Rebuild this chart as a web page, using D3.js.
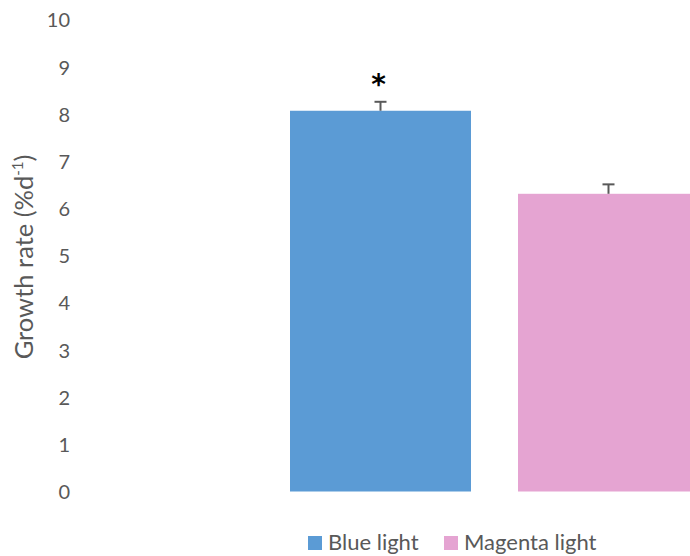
<!DOCTYPE html>
<html>
<head>
<meta charset="utf-8">
<script src="https://cdn.jsdelivr.net/npm/d3@7"></script>
<style>
html,body{margin:0;padding:0;background:#fff;}
svg{display:block;font-family:Lato,"Open Sans",sans-serif;}
</style>
</head>
<body>
<svg id="chart" width="690" height="556"></svg>
<script>
const series = ["Blue light", "Magenta light"];
const values = [8.07, 6.31];
const errors = [0.19, 0.20];
const significance = ["*", ""];
const colors = ["#5B9BD5", "#E5A4D2"];
const yTicks = [0,1,2,3,4,5,6,7,8,9,10];

const svg = d3.select("#chart");
const y = d3.scaleLinear().domain([0, 10]).range([491.5, 19.7]);
const x = d3.scaleBand().domain(series).range([290, 699]).paddingInner(47/228).paddingOuter(0);
const color = d3.scaleOrdinal().domain(series).range(colors);

// y axis (labels only)
const yAxis = d3.axisLeft(y).tickValues(yTicks).tickSize(0).tickPadding(0).tickFormat(d3.format("d"));
const ga = svg.append("g").attr("transform", "translate(70,0)").call(yAxis);
ga.select(".domain").remove();
ga.selectAll("text").attr("font-family", "Lato, sans-serif").attr("font-size", 20).attr("fill", "#595959").attr("dy", "0.36em");

// y title
const yt = svg.append("text")
  .attr("transform", "translate(33," + ((152+362)/2) + ") rotate(-90)")
  .attr("text-anchor", "middle")
  .attr("font-size", 25.5)
  .attr("fill", "#595959");
yt.append("tspan").text("Growth rate (%d");
yt.append("tspan").attr("font-size", 15).attr("dy", -10).text("-1");
yt.append("tspan").attr("dy", 10).text(")");

// bars
const data = series.map((s, i) => ({s, v: values[i], e: errors[i], sig: significance[i]}));
svg.append("g").selectAll("rect").data(data).join("rect")
  .attr("x", d => x(d.s))
  .attr("width", x.bandwidth())
  .attr("y", d => y(d.v))
  .attr("height", d => y(0) - y(d.v))
  .attr("fill", d => color(d.s));

// error bars
const eb = svg.append("g").attr("stroke", "#595959").attr("stroke-width", 2);
data.forEach(d => {
  const cx = x(d.s) + x.bandwidth() / 2;
  eb.append("line").attr("x1", cx).attr("x2", cx).attr("y1", y(d.v)).attr("y2", y(d.v + d.e));
  eb.append("line").attr("x1", cx - 6).attr("x2", cx + 6).attr("y1", y(d.v + d.e)).attr("y2", y(d.v + d.e));
});

// significance
svg.append("g").selectAll("text").data(data).join("text")
  .attr("x", d => x(d.s) + x.bandwidth() / 2 - 2)
  .attr("y", d => y(d.v + d.e) - 8)
  .attr("text-anchor", "middle")
  .attr("font-family", "DejaVu Sans, sans-serif")
  .attr("font-size", 28)
  .attr("font-weight", "bold")
  .attr("fill", "#000")
  .text(d => d.sig);

// legend
const legX = [308, 444];
const lg = svg.append("g");
series.forEach((s, i) => {
  lg.append("rect").attr("x", legX[i]).attr("y", 536).attr("width", 14).attr("height", 14).attr("fill", color(s));
  lg.append("text").attr("x", legX[i] + 20).attr("y", 550).attr("font-size", 22).attr("fill", "#595959").text(s);
});
</script>
</body>
</html>
